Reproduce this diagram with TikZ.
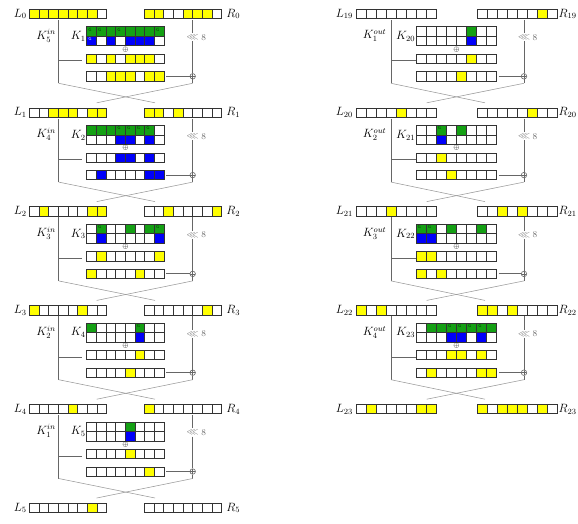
\documentclass[tikz,border=0pt]{standalone}
\usepackage{amssymb}
\definecolor{cy}{RGB}{255,255,0}
\definecolor{cgr}{RGB}{20,160,20}
\definecolor{cbl}{RGB}{0,0,250}
\tikzset{
 cellbox/.style={rectangle, draw=black!80, line width=0.65pt, inner sep=0pt, outer sep=0pt},
 fly/.style={fill=cy}, flw/.style={fill=white}, flg/.style={fill=cgr}, flb/.style={fill=cbl},
 gmark/.style={font=\fontsize{4.5}{5}\selectfont\sffamily, inner sep=0pt},
 flG/.style={fill=cgr, path picture={\node[gmark, text=green!20!black] at ([xshift=3.3pt,yshift=-2.8pt]path picture bounding box.north west) {G};}},
 flB/.style={fill=cbl, path picture={\node[gmark, text=white] at ([xshift=3.3pt,yshift=-2.8pt]path picture bounding box.north west) {G};}},
 wire/.style={draw=black!60, line width=0.9pt},
 swapline/.style={draw=black!40, line width=0.55pt},
 lab/.style={inner sep=0pt, font=\fontsize{12}{14}\selectfont},
 rotlab/.style={inner sep=1.2pt, text=black!60, font=\small},
 xorc/.style={circle, draw=black!60, line width=0.6pt, minimum size=5.5pt, inner sep=0pt,
   path picture={\draw[black!60, line width=0.5pt] (path picture bounding box.north) -- (path picture bounding box.south) (path picture bounding box.west) -- (path picture bounding box.east);}},
 xors/.style={inner sep=0pt, font=\fontsize{7}{7}\selectfont, text=black},
}
\newcommand\crow[6]{\foreach \c [count=\i] in {#6}{\node[cellbox, fl\c, minimum width=#4pt, minimum height=#5pt] (#1-\i) at ({#2+(\i-0.5)*#4},{#3}) {};}}
\newcommand\lrrows[6]{%
 \crow{#1L}{\LX}{#2}{\CW}{9.3}{#3}
 \crow{#1R}{\RX}{#2}{\CW}{9.3}{#4}
 \node[lab, anchor=east] (#1Ln) at ([xshift=-\LG pt]#1L-1.west) {$#5$};
 \node[lab, anchor=west] (#1Rn) at ([xshift=\RG pt]#1R-8.east) {$#6$};}
\newcommand\kblock[9]{%
 \crow{#1kt}{\KX}{#2+17.65}{\CW}{9.5}{#5}
 \crow{#1kb}{\KX}{#2+27.15}{\CW}{9.5}{#6}
 \crow{#1rc}{\KX}{#2+44.9}{\CW}{9.3}{#7}
 \crow{#1rd}{\KX}{#2+62.5}{\CW}{9.3}{#8}
 \node[lab, anchor=east] (#1kin) at ({\KIX},{#2+22}) {$#3$};
 \node[lab, anchor=east] (#1kn) at ([xshift=-\KG pt]#1kt-1.south west) {$#4$};
 \node[xors] (#1xs) at ({\KX+4*\CW},{#2+35.5}) {$\oplus$};
 \coordinate (#1lt) at ({\VL},{#2+6});
 \coordinate (#1lh) at ({\VL},{#2+47});
 \coordinate (#1lb) at ({\VL},{#2+69.5});
 \coordinate (#1he) at ({\HE},{#2+47});
 \coordinate (#1rt) at ({\VR},{#2+6});
 \coordinate (#1rb) at ({\VR},{#2+69.5});
 \node[rotlab] (#1rot) at ({\VR},{#2+23.5}) {$\lll$};
 \node[rotlab, anchor=west, inner sep=0pt] (#1eight) at ([xshift=1pt]#1rot.east) {8};
 \node[xorc] (#1xor) at ({\VR},{#2+62.5}) {};
 \draw[wire] (#1lt) -- (#1lb);
 \draw[wire] (#1lh) -- (#1he);
 \draw[wire] (#1rt) -- (#1rot);
 \draw[wire] (#1rot) -- (#1xor);
 \draw[wire] (#1xor) -- (#1rb);
 \draw[wire, shorten <=2pt] (#1rd-8.east) -- (#1xor);
 \ifnum#9=1
  \coordinate (#1xa) at ({\CA},{#2+89});
  \coordinate (#1xb) at ({\CB},{#2+89});
  \draw[swapline] (#1lb) -- (#1xb);
  \draw[swapline] (#1rb) -- (#1xa);
 \fi}
\begin{document}
\begin{tikzpicture}[x=1pt,y=-1pt]
\useasboundingbox (0,0) rectangle (578,523);
% left column
\def\LX{29.3}\def\RX{144.3}\def\KX{86.7}\def\CW{9.67}\def\VL{58.7}\def\VR{192.7}\def\HE{82.3}\def\CA{96.7}\def\CB{155}\def\KIX{56}\def\KG{1}\def\LG{2.5}\def\RG{4.5}
\lrrows{a0}{13.8}{y,y,y,y,y,y,y,w}{y,y,w,w,y,y,y,w}{L_0}{R_0}
\kblock{a0}{13.8}{K_5^{in}}{K_1}{G,G,g,G,g,g,g,G}{B,w,b,w,b,b,b,w}{y,w,y,w,y,y,y,w}{w,w,y,y,y,w,y,y}{1}
\lrrows{a1}{112.6}{w,w,y,y,y,w,y,y}{y,y,w,y,w,w,w,w}{L_1}{R_1}
\kblock{a1}{112.6}{K_4^{in}}{K_2}{g,g,g,G,G,G,G,w}{w,w,w,b,b,w,b,w}{w,w,w,b,b,w,b,w}{w,b,w,w,w,w,b,b}{1}
\lrrows{a2}{211.4}{w,y,w,w,w,w,y,y}{w,w,y,w,w,w,w,y}{L_2}{R_2}
\kblock{a2}{211.4}{K_3^{in}}{K_3}{w,G,w,w,g,w,g,G}{w,b,w,w,w,w,w,b}{w,y,w,w,w,w,w,y}{y,w,w,w,w,y,w,w}{1}
\lrrows{a3}{310.2}{y,w,w,w,w,y,w,w}{w,w,w,w,w,w,y,w}{L_3}{R_3}
\kblock{a3}{310.2}{K_2^{in}}{K_4}{g,w,w,w,w,G,w,w}{w,w,w,w,w,b,w,w}{w,w,w,w,w,y,w,w}{w,w,w,w,y,w,w,w}{1}
\lrrows{a4}{409}{w,w,w,w,y,w,w,w}{y,w,w,w,w,w,w,w}{L_4}{R_4}
\kblock{a4}{409}{K_1^{in}}{K_5}{w,w,w,w,g,w,w,w}{w,w,w,w,b,w,w,w}{w,w,w,w,y,w,w,w}{w,w,w,w,w,w,y,w}{1}
\lrrows{a5}{507.8}{w,w,w,w,w,w,y,w}{w,w,w,w,w,w,w,w}{L_5}{R_5}
% right column
\def\LX{356}\def\RX{477}\def\KX{416}\def\CW{10.1}\def\VL{391}\def\VR{524}\def\HE{416}\def\CA{426.7}\def\CB{485}\def\KIX{386.5}\def\KG{0.6}\def\LG{3}\def\RG{0.6}
\lrrows{b0}{13.8}{w,w,w,w,w,w,w,w}{w,w,w,w,w,w,y,w}{L_{19}}{R_{19}}
\kblock{b0}{13.8}{K_1^{out}}{K_{20}}{w,w,w,w,w,g,w,w}{w,w,w,w,w,b,w,w}{w,w,w,w,w,y,w,w}{w,w,w,w,y,w,w,w}{1}
\lrrows{b1}{112.6}{w,w,w,w,y,w,w,w}{w,w,w,w,w,y,w,w}{L_{20}}{R_{20}}
\kblock{b1}{112.6}{K_2^{out}}{K_{21}}{w,w,G,w,g,w,w,w}{w,w,b,w,w,w,w,w}{w,w,y,w,w,w,w,w}{w,w,w,y,w,w,w,w}{1}
\lrrows{b2}{211.4}{w,w,w,y,w,w,w,w}{w,w,y,w,y,w,w,w}{L_{21}}{R_{21}}
\kblock{b2}{211.4}{K_3^{out}}{K_{22}}{G,G,w,g,w,w,g,w}{b,b,w,w,w,w,w,w}{y,y,w,w,w,w,w,w}{y,w,y,w,w,w,w,w}{1}
\lrrows{b3}{310.2}{y,w,y,w,w,w,w,w}{y,y,w,y,w,w,w,w}{L_{22}}{R_{22}}
\kblock{b3}{310.2}{K_4^{out}}{K_{23}}{w,g,g,G,G,G,G,g}{w,w,w,b,b,w,b,w}{w,w,w,y,y,w,y,w}{w,y,w,w,w,w,y,y}{1}
\lrrows{b4}{409}{w,y,w,w,w,w,y,y}{y,w,y,y,y,w,y,w}{L_{23}}{R_{23}}
\end{tikzpicture}
\end{document}
